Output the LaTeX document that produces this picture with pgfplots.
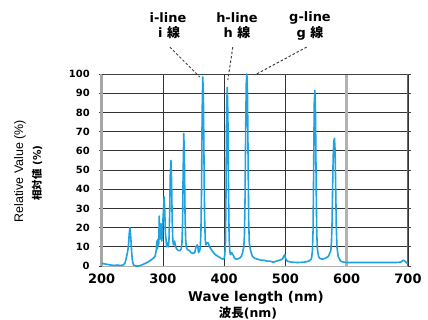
\documentclass[border=0pt]{standalone}
\usepackage{pgfplots}
\pgfplotsset{compat=1.18}
\usepackage{fontspec}
\setmainfont{DejaVu Sans}
\newfontfamily\lib{Liberation Sans}
\newfontfamily\cjk{Noto Sans CJK JP}
\definecolor{spec}{RGB}{30,162,224}
\pgfplotstableread{
x y
200 1.5
203 1.2
206 1.0
210 0.8
215 0.5
220 0.3
225 0.5
230 0.3
235 0.5
238 1.5
240 4
242 7
243 9
244 12
245 17
246 20
247 17
248 12
249 7
250 3
252 0.5
256 0
260 0
265 0.5
270 1.2
275 2
280 3
284 4
287 5
289 8
290 13
291 9
292 14
293 11
294 26
295 14
296 18
297 22
298 13
299 16
300 24
301 30
302 36
303 28
304 17
305 14
306 10
307 12
308 11
309 10
310 15
311 28
312 48
313 55
314 45
315 25
316 14
317 11
318 12
319 13
320 11
322 9
325 8
328 8
330 9
331 12
332 22
333 50
334 69
335 55
336 28
337 14
338 10
340 8.5
343 8
346 7
349 6.5
352 7
354 10
356 11
357 10
358 7
360 8
361 10
362 18
363 40
364 80
365 98.5
366 88
367 55
368 25
369 14
370 11
372 12
374 12
376 10
378 9
380 8
385 6
390 5
395 4
398 3.5
400 4
401 6
402 12
403 40
404 82
405 93
406 78
407 40
408 15
409 8
410 6
412 7
414 6
417 4
420 3.5
425 4
428 5
430 7
432 10
433 16
434 35
435 70
436 95
437 100
438 90
439 55
440 22
441 12
443 8
446 5
450 4
455 3.5
460 3
465 3
470 2.5
475 2.5
480 2
485 2.5
490 3
495 3.5
497 5
499 6
500 4
503 2.5
510 2
520 1.8
530 2
538 2.5
542 3.5
543 5
544 8
545 18
546 50
547 85
548 91.5
549 80
550 45
551 18
552 9
554 5
556 4
560 3.5
565 4
570 5
574 8
575 12
576 22
577 42
578 58
579 65
580 66.5
581 60
582 40
583 20
584 10
586 5
590 2.5
595 2
600 1.8
620 1.8
640 1.8
660 1.8
680 1.8
688 2
692 3
695 2.5
698 1.5
700 1.5
}\spectrum
\begin{document}
\begin{tikzpicture}
\path[use as bounding box] (0,0) rectangle (428bp,320bp);
\begin{axis}[
  at={(101.7bp,54bp)}, anchor=south west,
  scale only axis, width=306.3bp, height=192bp,
  xmin=200, xmax=700, ymin=0, ymax=100,
  xtick={200,300,400,500,700},
  extra x ticks={600},
  extra x tick style={grid style={draw=black!30, line width=2.5bp}},
  ytick={0,10,...,100},
  xmajorgrids, ymajorgrids,
  grid style={draw=black!80, line width=0.9bp},
  axis line style={draw=none},
  xtick style={draw=none},
  ytick style={draw=black!75, line width=0.9bp},
  tick align=outside, major tick length=3bp,
  /pgf/number format/assume math mode=true,
  xticklabel style={font=\fontsize{13}{13}\selectfont\bfseries, yshift=-1.5bp},
  yticklabel style={font=\fontsize{10}{10}\selectfont\bfseries, xshift=-5.5bp},
  clip=false,
]
\draw[black!35, line width=2.5bp] (axis cs:200,0) -- (axis cs:200,100);
\draw[black!75, line width=0.9bp] (axis cs:200,100) -- (axis cs:700,100);
\draw[black!60, line width=1bp] (axis cs:700,0) -- (axis cs:700,100);
\draw[black!30, line width=0.6bp] (axis cs:200,0) -- (axis cs:700,0);
\addplot[spec, line width=1.6bp, line join=round] table[x=x,y=y] {\spectrum};
\draw[black!75, line width=1bp, dash pattern=on 2.5bp off 2bp] (axis cs:311.3,114) -- (axis cs:360.2,98.4);
\draw[black!75, line width=1bp, dash pattern=on 2.5bp off 2bp] (axis cs:414,114) -- (axis cs:405.9,96.9);
\draw[black!75, line width=1bp, dash pattern=on 2.5bp off 2bp] (axis cs:534.6,114) -- (axis cs:449.9,99.5);
\end{axis}
\node[rotate=90, font=\lib\fontsize{12.5}{12}\selectfont] at (20bp,149bp) {Relative Value (\%)};
\node[rotate=90, font=\fontsize{10.5}{11}\selectfont\bfseries] at (37bp,147bp) {{\cjk\bfseries 相対値} (\%)};
\node[font=\fontsize{13.5}{14}\selectfont\bfseries] at (256bp,22bp) {Wave length (nm)};
\node[font=\fontsize{12.5}{13}\selectfont\bfseries] at (248bp,7bp) {{\cjk\bfseries 波長}(nm)};
\node[font=\fontsize{13}{13}\selectfont\bfseries] at (168bp,302bp) {i-line};
\node[font=\fontsize{13}{13}\selectfont\bfseries] at (169bp,287bp) {i {\cjk\bfseries 線}};
\node[font=\fontsize{13}{13}\selectfont\bfseries] at (237bp,302bp) {h-line};
\node[font=\fontsize{13}{13}\selectfont\bfseries] at (237bp,287bp) {h {\cjk\bfseries 線}};
\node[font=\fontsize{13}{13}\selectfont\bfseries] at (310bp,302bp) {g-line};
\node[font=\fontsize{13}{13}\selectfont\bfseries] at (310bp,287bp) {g {\cjk\bfseries 線}};
\end{tikzpicture}
\end{document}
